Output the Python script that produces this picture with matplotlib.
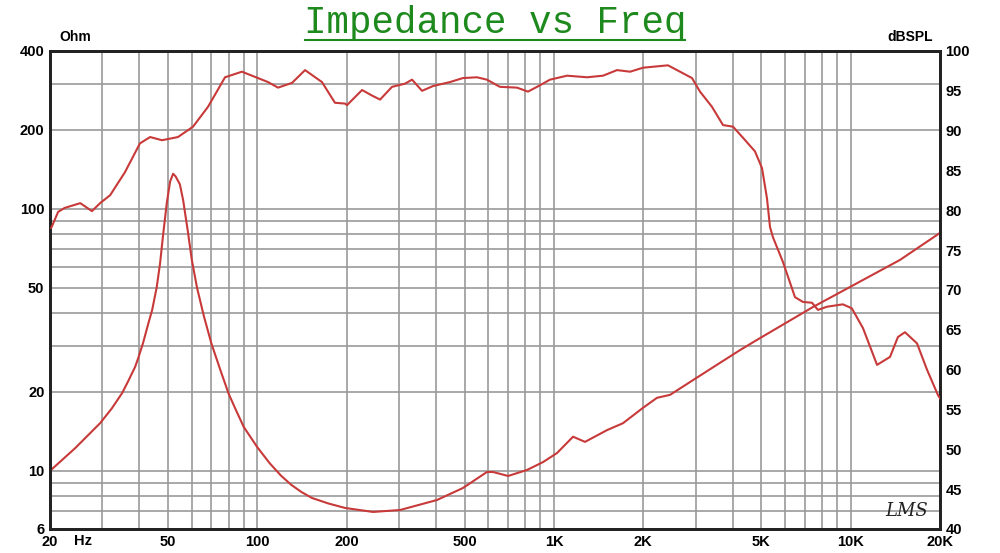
import matplotlib
matplotlib.use("Agg")
import matplotlib.pyplot as plt
from matplotlib.lines import Line2D
from matplotlib.ticker import FixedLocator, NullLocator

# SPL response (dBSPL, right axis)
spl_freq = [20.2, 21.3, 22.4, 25.3, 27.7, 29.5, 31.9, 35.8, 40.2, 43.5, 47.7, 54.0,
            60.7, 68.2, 77.8, 88.7, 100.5, 108.6, 117.4, 130.9, 144.8, 165.1, 182.6,
            197.4, 200.5, 225.4, 243.6, 259.2, 284.4, 314.6, 332.2, 359, 391, 446,
            493, 550, 594, 657, 750, 817, 897, 969, 1106, 1292, 1463, 1630, 1805,
            1995, 2421, 2659, 2918, 3105, 3406, 3712, 4011, 4336, 4757, 5024, 5222,
            5346, 5472, 5913, 6490, 6905, 7405, 7758, 8316, 9412, 10090, 11005,
            12270, 13570, 14430, 15240, 16730, 18080, 19690, 20000]
spl_db = [77.8, 79.8, 80.3, 80.9, 79.9, 80.9, 81.9, 84.8, 88.4, 89.2, 88.8, 89.2,
          90.5, 93.0, 96.7, 97.4, 96.6, 96.1, 95.4, 96.0, 97.6, 96.1, 93.5,
          93.4, 93.2, 95.1, 94.4, 93.9, 95.5, 95.9, 96.4, 95.0, 95.6, 96.1,
          96.6, 96.7, 96.4, 95.5, 95.4, 94.9, 95.7, 96.4, 96.9, 96.7, 96.9, 97.6, 97.4,
          97.9, 98.2, 97.4, 96.6, 94.9, 93.0, 90.7, 90.5, 89.1, 87.4, 85.3, 81.5,
          77.9, 76.6, 73.5, 69.1, 68.5, 68.4, 67.5, 67.9, 68.2, 67.7, 65.2,
          60.6, 61.6, 64.1, 64.7, 63.3, 60.0, 56.8, 56.4]

# impedance (Ohm, left axis)
imp_freq = [20, 24.3, 29.5, 32.3, 35.0, 36.7, 38.7, 39.7, 41.2, 42.9, 44.2, 45.8,
            47.0, 48.2, 49.5, 50.8, 52.0, 53.0, 54.8, 56.2, 58.3, 60.1,
            62.6, 66.0, 70.0, 75.0, 80.0, 85.0, 90.0, 100.0, 110.0, 120.0, 130.0,
            140.9, 152.8, 173.4, 197.4, 245.4, 302.7, 403, 493, 594, 623, 700,
            811, 918, 1024, 1159, 1272, 1508, 1708, 1995, 2224, 2461, 2942, 3543,
            4237, 4832, 7464, 9946, 14660, 20000]
imp_ohm = [10.0, 12.2, 15.2, 17.3, 19.8, 22.0, 24.9, 27.0, 30.8, 36.5, 41.1, 50.3,
           62.0, 81.0, 105, 127, 136, 133, 124, 108, 82, 64,
           50.0, 39.0, 30.6, 24.3, 19.7, 16.9, 14.7, 12.3, 10.7, 9.6, 8.85,
           8.3, 7.88, 7.51, 7.22, 6.97, 7.09, 7.74, 8.6, 9.9, 9.9, 9.56,
           10.08, 10.8, 11.7, 13.5, 12.9, 14.3, 15.2, 17.4, 19.0, 19.5, 22.2, 25.4,
           28.9, 31.6, 42.2, 50.3, 63.8, 80.9]

x_grid = [30, 40, 50, 60, 70, 80, 90, 100, 200, 300, 400, 500, 600, 700, 800, 900,
          1000, 2000, 3000, 4000, 5000, 6000, 7000, 8000, 9000, 10000]
y_grid = [7, 8, 9, 10, 20, 30, 40, 50, 60, 70, 80, 90, 100, 200, 300]
x_ticks = [20, 50, 100, 200, 500, 1000, 2000, 5000, 10000, 20000]
x_labels = ['20', '50', '100', '200', '500', '1K', '2K', '5K', '10K', '20K']
left_ticks = [6, 10, 20, 50, 100, 200, 400]
right_ticks = list(range(40, 101, 5))

red = '#c83a3a'
tick_font = dict(family='Liberation Sans', weight='bold', size=10.5)

fig = plt.figure(figsize=(10, 5.53), dpi=100)
ax = fig.add_axes([0.05, 0.0434, 0.89, 0.8644])
ax.set_xscale('log')
ax.set_yscale('log')
ax.set_xlim(20, 20000)
ax.set_ylim(6, 400)

for f in x_grid:
    ax.axvline(f, color='#9a9a9a', lw=1.2, zorder=1)
for v in y_grid:
    ax.axhline(v, color='#9a9a9a', lw=1.2, zorder=1)

ax.plot(imp_freq, imp_ohm, color=red, lw=1.5, zorder=3)

ax.xaxis.set_major_locator(FixedLocator(x_ticks))
ax.xaxis.set_minor_locator(NullLocator())
ax.set_xticklabels(x_labels, fontdict=tick_font)
ax.yaxis.set_major_locator(FixedLocator(left_ticks))
ax.yaxis.set_minor_locator(NullLocator())
ax.set_yticklabels([str(t) for t in left_ticks], fontdict=tick_font)
ax.tick_params(length=0, pad=4)

ax2 = ax.twinx()
ax2.set_ylim(40, 100)
ax2.set_yticks(right_ticks)
ax2.set_yticklabels([str(t) for t in right_ticks], fontdict=tick_font)
ax2.tick_params(length=0, pad=4)
ax2.plot(spl_freq, spl_db, color=red, lw=1.5, zorder=3)

for a in (ax, ax2):
    for s in a.spines.values():
        s.set_color('#222222')
        s.set_linewidth(2)

fig.text(0.083, 0.0217, 'Hz', ha='center', va='center', family='Liberation Sans', weight='bold', size=10.5)
fig.text(0.075, 0.933, 'Ohm', ha='center', va='center', family='Liberation Sans', weight='bold', size=10)
fig.text(0.91, 0.933, 'dBSPL', ha='center', va='center', family='Liberation Sans', weight='bold', size=10)

fig.text(0.495, 0.958, 'Impedance vs Freq', ha='center', va='center', color='#1e8a1e',
         family='Liberation Mono', size=27)
fig.add_artist(Line2D([0.305, 0.685], [0.927, 0.927], transform=fig.transFigure,
                      color='#1e8a1e', lw=1.5))

ax.text(0.963, 0.038, 'LMS', transform=ax.transAxes, ha='center', va='center',
        family='DejaVu Serif', style='italic', size=13, color='#222222', zorder=4)

fig.savefig('out.png', dpi=100)
